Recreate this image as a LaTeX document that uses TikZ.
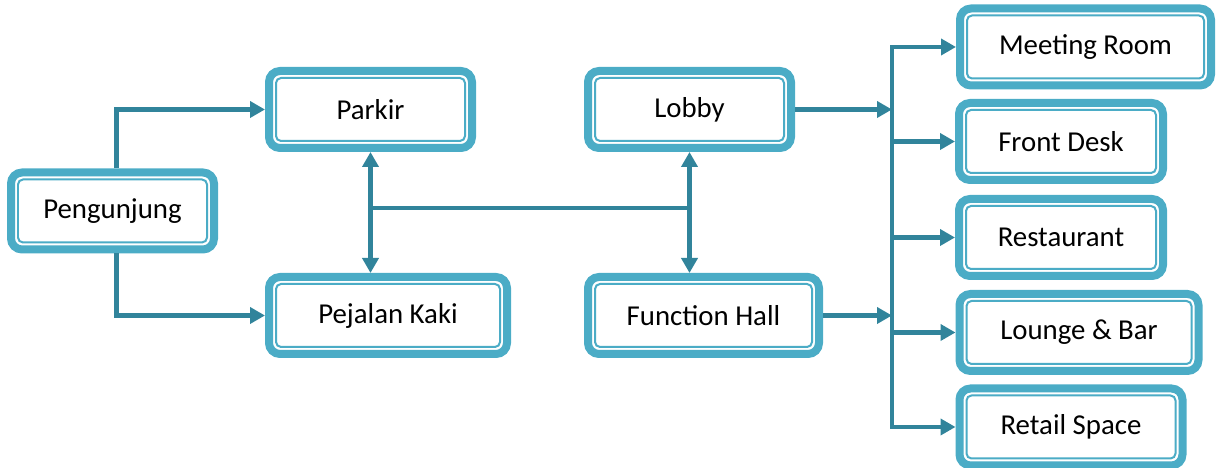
\documentclass[tikz,border=0pt]{standalone}
\usepackage{fontspec}
\setmainfont{Carlito}
\usetikzlibrary{positioning}
\usetikzlibrary{calc}
\usetikzlibrary{arrows.meta}
\definecolor{boxblue}{RGB}{75,172,198}
\definecolor{linkblue}{RGB}{49,132,155}
\tikzset{>={Triangle[length=0.3cm,width=0.32cm]}}
\tikzset{
  room/.style={draw=boxblue, line width=0.16cm, rounded corners=0.22cm,
    fill=white, minimum height=1.54cm, inner sep=0pt,
    font=\fontsize{16.4}{20}\selectfont,
    path picture={\draw[boxblue, line width=0.04cm, rounded corners=0.1cm]
      ([shift={(0.14,0.14)}]path picture bounding box.south west) rectangle
      ([shift={(-0.14,-0.14)}]path picture bounding box.north east);}},
  link/.style={draw=linkblue, line width=0.09cm}
}

\begin{document}
\begin{tikzpicture}

\useasboundingbox (0,0) rectangle (24.36,9.36);

% ---------------- Entrance side ----------------
\node[room, minimum width=4.06cm] (peng)    at (2.25,5.14)  {Pengunjung};
\node[room, minimum width=4.06cm] (parkir)  at (7.41,7.17)  {Parkir};
\node[room, minimum width=4.76cm] (pejalan) at (7.76,3.05)  {Pejalan Kaki};

% ---------------- Main hall ----------------
\node[room, minimum width=4.06cm] (lobby) at (13.79,7.17) {Lobby};
\node[room, minimum width=4.62cm] (fhall) at (14.07,3.05) {Function Hall};

% ---------------- Facilities ----------------
\node[room, minimum width=5.02cm] (meeting) at (21.71,8.42) {Meeting Room};
\node[room, minimum width=4.08cm] (front)   at (21.22,6.53) {Front Desk};
\node[room, minimum width=4.08cm] (resto)   at (21.22,4.61) {Restaurant};
\node[room, minimum width=4.78cm] (lounge)  at (21.58,2.71) {Lounge \& Bar};
\node[room, minimum width=4.46cm] (retail)  at (21.42,0.82) {Retail Space};

\coordinate (bus) at (17.84,4.6);

% ---------------- Connectors ----------------
\draw[link,->] ([xshift=0.08cm]peng.north) |- (parkir.west);
\draw[link,->] ([xshift=0.08cm]peng.south) |- (pejalan.west);

\draw[link,<->] (parkir.south) -- (parkir.south |- pejalan.north);
\draw[link,<->] (lobby.south) -- (lobby.south |- fhall.north);
\draw[link] (parkir.south |- 0,5.2) -- (lobby.south |- 0,5.2);

\draw[link,->] (lobby.east) -- (lobby.east -| bus);
\draw[link,->] (fhall.east) -- (fhall.east -| bus);

\draw[link,<->] (meeting.west) -- (meeting.west -| bus)
  -- (retail.west -| bus) -- (retail.west);
\foreach \n in {front,resto,lounge}{
  \draw[link,->] (\n.west -| bus) -- (\n.west);
}

\end{tikzpicture}
\end{document}
